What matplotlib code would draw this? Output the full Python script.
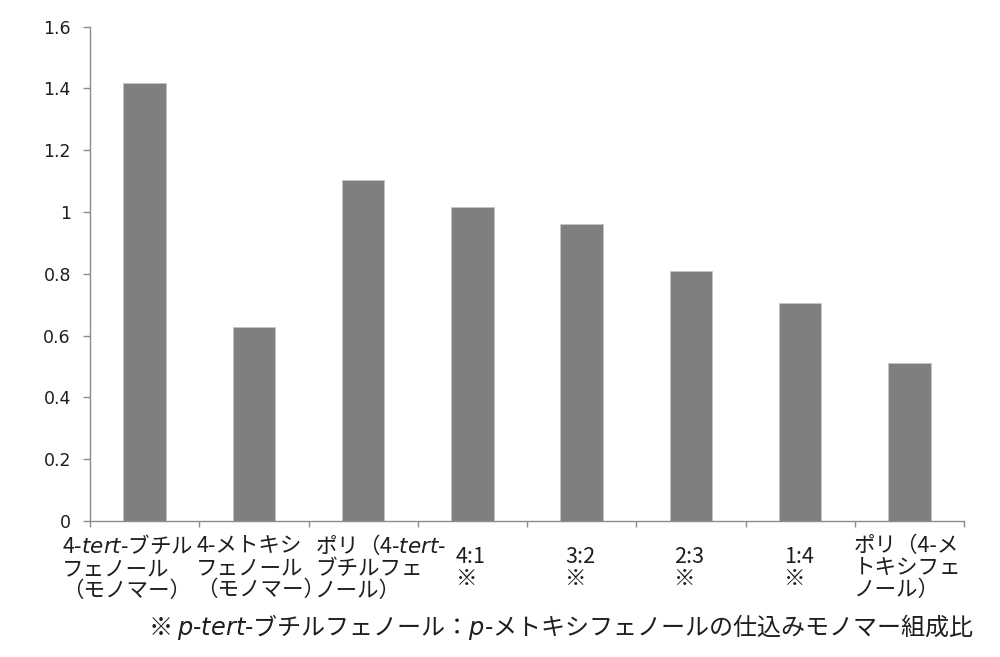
import matplotlib
matplotlib.use('Agg')
import matplotlib.pyplot as plt
from matplotlib.ticker import FuncFormatter, MultipleLocator

plt.rcParams['font.family'] = ['Noto Sans CJK JP', 'DejaVu Sans']
plt.rcParams['mathtext.fontset'] = 'custom'
plt.rcParams['mathtext.it'] = 'DejaVu Sans:italic'
plt.rcParams['mathtext.rm'] = 'Noto Sans CJK JP'

# category labels (tert / p in italics)
labels = [
    '4-$\\mathit{tert}$-ブチル\nフェノール\n（モノマー）',
    '4-メトキシ\nフェノール\n（モノマー）',
    'ポリ（4-$\\mathit{tert}$-\nブチルフェ\nノール）',
    '4:1\n※',
    '3:2\n※',
    '2:3\n※',
    '1:4\n※',
    'ポリ（4-メ\nトキシフェ\nノール）',
]
values = [1.417, 0.627, 1.105, 1.016, 0.960, 0.810, 0.705, 0.510]
note = '※ $\\mathit{p}$-$\\mathit{tert}$-ブチルフェノール：$\\mathit{p}$-メトキシフェノールの仕込みモノマー組成比'

# horizontal nudge of each label block (points), like the wrapped excel labels
label_shift = [-12.5, 5, 13, -1, -1, -1, -1, -1.5]

axis_color = '#8c8c8c'
text_color = '#1e1e1e'

fig = plt.figure(figsize=(10, 6.57), dpi=100)
ax = fig.add_axes([0.09, 0.207, 0.874, 0.7525])

x = list(range(len(values)))
ax.bar(x, values, width=0.39, color='#7f7f7f', edgecolor='#c4c4c4', linewidth=0.6, zorder=2)

ax.set_xlim(-0.5, len(values) - 0.5)
ax.set_ylim(0, 1.6)
ax.yaxis.set_major_locator(MultipleLocator(0.2))
ax.yaxis.set_major_formatter(FuncFormatter(lambda v, p: '{:g}'.format(round(v, 1))))

for s in ['top', 'right']:
    ax.spines[s].set_visible(False)
for s in ['left', 'bottom']:
    ax.spines[s].set_color(axis_color)
    ax.spines[s].set_linewidth(1.0)

ax.tick_params(axis='y', direction='out', length=4.7, width=1, color=axis_color,
               pad=9, labelsize=12.5, labelcolor=text_color)
for t in ax.get_yticklabels():
    t.set_fontfamily(['DejaVu Sans', 'Noto Sans CJK JP'])

# ticks at category boundaries, labels drawn as blocks under each category
ax.set_xticks([i - 0.5 for i in range(len(values) + 1)])
ax.set_xticklabels([])
ax.tick_params(axis='x', direction='out', length=4.5, width=1, color=axis_color)

for i, (lab, dx) in enumerate(zip(labels, label_shift)):
    ax.annotate(lab, xy=(i, 0), xycoords=('data', 'axes fraction'),
                xytext=(dx, -34), textcoords='offset points',
                ha='center', va='center', multialignment='left',
                fontsize=15.5, linespacing=1.0, color=text_color)

fig.text(0.5615, 0.045, note, ha='center', va='center', fontsize=17.3, color=text_color)

fig.savefig('out.png', dpi=100, facecolor='white')
